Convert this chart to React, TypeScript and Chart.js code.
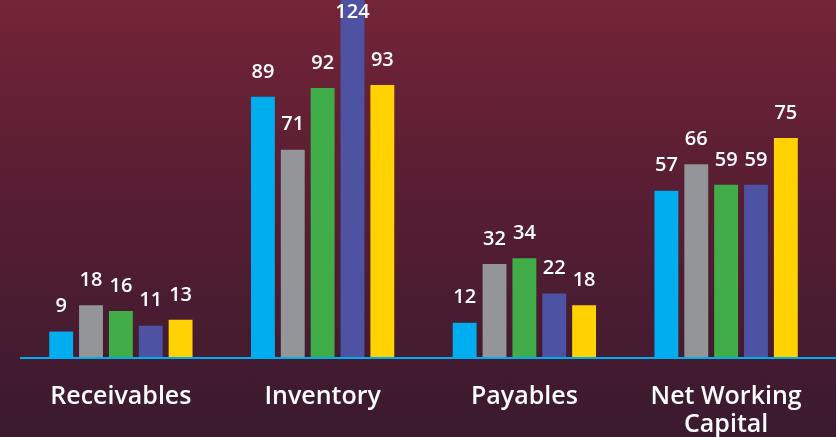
import React, { useEffect, useRef } from "react";
import { Chart, registerables } from "chart.js";

Chart.register(...registerables);

const categories: (string | string[])[] = ["Receivables", "Inventory", "Payables", ["Net Working", "Capital"]];
const series1 = [9, 89, 12, 57];
const series2 = [18, 71, 32, 66];
const series3 = [16, 92, 34, 59];
const series4 = [11, 124, 22, 59];
const series5 = [13, 93, 18, 75];
const seriesNames = ["Series 1", "Series 2", "Series 3", "Series 4", "Series 5"];
const colors = ["#00ADEF", "#939598", "#41AD49", "#4E52A3", "#FFD200"];

const valueLabelPlugin = {
  id: "valueLabels",
  afterDatasetsDraw(chart: any) {
    const ctx = chart.ctx;
    ctx.save();
    ctx.fillStyle = "#ffffff";
    ctx.font = "600 20px 'Open Sans'";
    ctx.textAlign = "center";
    ctx.textBaseline = "middle";
    chart.data.datasets.forEach((ds: any, i: number) => {
      const meta = chart.getDatasetMeta(i);
      meta.data.forEach((el: any, j: number) => {
        const y = Math.max(el.y - 25, 12);
        ctx.fillText(String(ds.data[j]), el.x, y);
      });
    });
    ctx.restore();
  },
};

const baselinePlugin = {
  id: "baseline",
  afterDatasetsDraw(chart: any) {
    const ctx = chart.ctx;
    const a = chart.chartArea;
    ctx.save();
    ctx.strokeStyle = "#00AEEF";
    ctx.lineWidth = 2;
    ctx.beginPath();
    ctx.moveTo(a.left, a.bottom);
    ctx.lineTo(chart.width, a.bottom);
    ctx.stroke();
    ctx.restore();
  },
};

export default function App() {
  const ref = useRef<HTMLCanvasElement>(null);
  useEffect(() => {
    document.body.style.margin = "0";
    const data = [series1, series2, series3, series4, series5];
    const chart = new Chart(ref.current!, {
      type: "bar",
      data: {
        labels: categories,
        datasets: data.map((d, i) => ({
          label: seriesNames[i],
          data: d,
          backgroundColor: colors[i],
          borderWidth: 0,
          categoryPercentage: 0.74,
          barPercentage: 0.8,
        })),
      },
      options: {
        animation: false,
        responsive: false,
        maintainAspectRatio: false,
        layout: { padding: { left: 20, right: 9, top: 0, bottom: 0 } },
        plugins: { legend: { display: false }, tooltip: { enabled: false } },
        scales: {
          x: {
            grid: { display: false, drawTicks: false },
            border: { display: false },
            afterFit(scale: any) {
              scale.height = 79;
            },
            ticks: {
              color: "#ffffff",
              font: { family: "'Open Sans'", size: 25, weight: "600" as any, lineHeight: 28 / 25 },
              padding: 25,
              maxRotation: 0,
              autoSkip: false,
            },
          },
          y: { display: false, min: 0, max: 122 },
        },
      },
      plugins: [valueLabelPlugin, baselinePlugin],
    });
    return () => chart.destroy();
  }, []);
  return (
    <div
      style={{
        position: "fixed",
        left: 0,
        top: 0,
        width: 836,
        height: 437,
        background: "linear-gradient(to bottom, #742536 0%, #5a1e33 40%, #3a1a2f 100%)",
      }}
    >
      <canvas ref={ref} width={836} height={437} style={{ display: "block" }} />
    </div>
  );
}
